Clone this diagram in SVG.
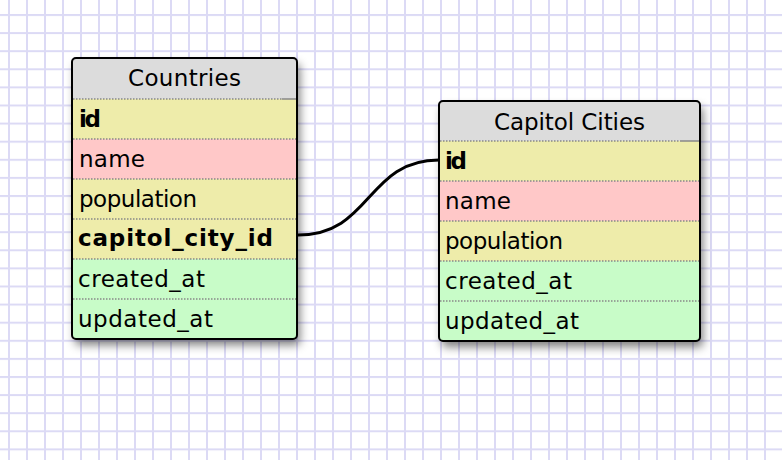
<svg xmlns="http://www.w3.org/2000/svg" width="782" height="460" viewBox="0 0 782 460">
<style>
text{font-family:"DejaVu Sans","Liberation Sans",sans-serif;font-size:23px;fill:#000}
.b{font-weight:bold}
.hd{fill:#dcdcdc}
.y{fill:#eeecaa}
.p{fill:#ffc8c8}
.g{fill:#c8fcc8}
.sep{stroke:#888;stroke-width:1.5;stroke-dasharray:1.5 1.5;fill:none}
.sol{stroke:#888;stroke-width:1.5;fill:none}
.border{fill:none;stroke:#000;stroke-width:2}
.shadow{fill:#000;opacity:0.5;filter:url(#blur)}
.conn{fill:none;stroke:#000;stroke-width:3}
</style>
<defs>
<pattern id="grid" patternUnits="userSpaceOnUse" x="8" y="14" width="18" height="18.1">
<rect x="0" y="0" width="2" height="18.1" fill="#dcdaf5"/>
<rect x="0" y="0" width="18" height="2" fill="#dcdaf5"/>
</pattern>
<filter id="blur" x="-20%" y="-20%" width="140%" height="140%">
<feGaussianBlur stdDeviation="5"/>
</filter>
<clipPath id="c1"><rect x="72" y="58" width="225" height="281" rx="4"/></clipPath>
<clipPath id="c2"><rect x="439" y="101" width="261" height="240" rx="4"/></clipPath>
</defs>
<rect width="782" height="460" fill="#fff"/>
<rect width="782" height="460" fill="url(#grid)"/>

<g id="countries">
<rect class="shadow" x="75" y="64" width="225" height="281" rx="4"/>
<g clip-path="url(#c1)">
<rect class="hd" x="72" y="58" width="225" height="41"/>
<rect class="y" x="72" y="99" width="225" height="40"/>
<rect class="p" x="72" y="139" width="225" height="40"/>
<rect class="y" x="72" y="179" width="225" height="40"/>
<rect class="y" x="72" y="219" width="225" height="40"/>
<rect class="g" x="72" y="259" width="225" height="40"/>
<rect class="g" x="72" y="299" width="225" height="40"/>
</g>
<path class="sep" d="M73,99H282M73,139H297M73,179H297M73,219H297M73,259H297M73,299H297"/>
<path class="sol" d="M282,99H297"/>
<rect class="border" x="72" y="58" width="225" height="281" rx="4"/>
<text x="184.5" y="86" text-anchor="middle" textLength="113">Countries</text>
<text class="b" x="79" y="127" textLength="22">id</text>
<text x="79" y="167" textLength="66">name</text>
<text x="79" y="207" textLength="118">population</text>
<text class="b" x="78" y="246" textLength="195">capitol_city_id</text>
<text x="78" y="287" textLength="127">created_at</text>
<text x="78" y="327" textLength="135">updated_at</text>
</g>

<g id="capitol_cities">
<rect class="shadow" x="442" y="107" width="261" height="240" rx="4"/>
<g clip-path="url(#c2)">
<rect class="hd" x="439" y="101" width="261" height="40"/>
<rect class="y" x="439" y="141" width="261" height="40"/>
<rect class="p" x="439" y="181" width="261" height="40"/>
<rect class="y" x="439" y="221" width="261" height="40"/>
<rect class="g" x="439" y="261" width="261" height="40"/>
<rect class="g" x="439" y="301" width="261" height="40"/>
</g>
<path class="sep" d="M440,141H680M440,181H700M440,221H700M440,261H700M440,301H700"/>
<path class="sol" d="M680,141H700"/>
<rect class="border" x="439" y="101" width="261" height="240" rx="4"/>
<text x="569.5" y="130" text-anchor="middle" textLength="151">Capitol Cities</text>
<text class="b" x="445" y="169" textLength="22">id</text>
<text x="445" y="209" textLength="66">name</text>
<text x="445" y="249" textLength="118">population</text>
<text x="445" y="289" textLength="127">created_at</text>
<text x="445" y="329" textLength="134">updated_at</text>
</g>

<g id="connectors">
<path class="conn" d="M298,235C372,235 366,160 439,160"/>
</g>
</svg>
